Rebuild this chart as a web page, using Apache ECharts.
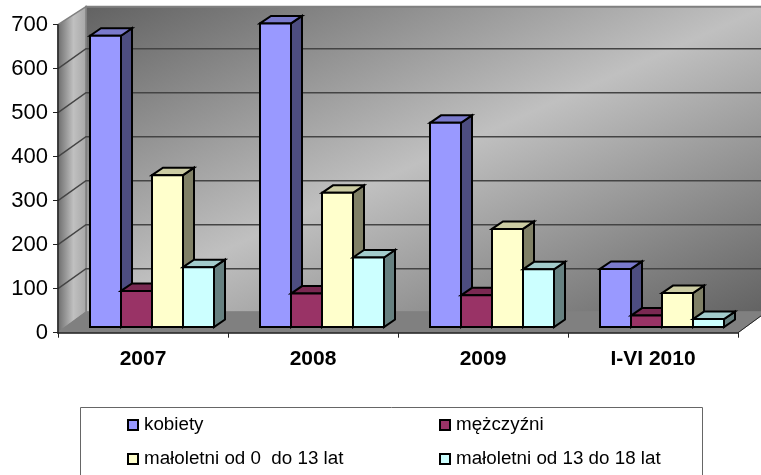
<!DOCTYPE html>
<html><head><meta charset="utf-8">
<style>html,body{margin:0;padding:0;background:#fff}#c{width:761px;height:475px}</style>
<script src="https://cdn.jsdelivr.net/npm/echarts@6/dist/echarts.min.js"></script>
</head><body><div id="c"></div>
<script>
const categories = ['2007', '2008', '2009', 'I-VI 2010'];
const kobiety = [662, 690, 464, 132];
const mezczyzni = [82, 76, 72, 26];
const maloletni0_13 = [345, 305, 223, 77];
const maloletni13_18 = [136, 158, 131, 18];
const seriesNames = ['kobiety', 'mężczyźni', 'małoletni od 0  do 13 lat', 'małoletni od 13 do 18 lat'];
const yTicks = [0, 100, 200, 300, 400, 500, 600, 700];

const FONT = '"Liberation Sans", Arial, sans-serif';
const WALL_DX = 28, WALL_TOP_DY = -18, WALL_DY = -20, FLOOR_DY = -20.5;
const FRONT_DX = 9, FRONT_DY = -5.7;
const BAR_DX = 11, BAR_DY = -7.5;
const BAR_RATIO = 31 / 170;
const faces = [
  {front:'#9999FF', top:'#7A7ACC', side:'#4D4D80'},
  {front:'#993366', top:'#7A2952', side:'#4D1A33'},
  {front:'#FFFFCC', top:'#CCCCA3', side:'#808066'},
  {front:'#CCFFFF', top:'#A3CCCC', side:'#668080'}
];

function wallRender(params, api) {
  const band = api.size([1, 0])[0];
  const x0 = api.coord([0, 0])[0] - band / 2;
  const x1 = x0 + band * categories.length;
  const y0 = api.coord([0, 0])[1];
  const yT = api.coord([0, 700])[1];
  const bx0 = x0 + WALL_DX, bx1 = x1 + WALL_DX, by0 = y0 + FLOOR_DY, byT = yT + WALL_TOP_DY;
  const w = bx1 - bx0, h = by0 - byT, cx = (bx0 + bx1) / 2, cy = (by0 + byT) / 2;
  const len = Math.hypot(w, h), nx = h / len, ny = w / len;
  const half = (w / 2) * nx + (h / 2) * ny;
  const kids = [];
  kids.push({type:'polygon', shape:{points:[[bx0,byT],[bx1,byT],[bx1,by0],[bx0,by0]]},
    style:{fill:{type:'linear', global:true, x:cx-half*nx, y:cy-half*ny, x2:cx+half*nx, y2:cy+half*ny,
      colorStops:[{offset:0,color:'#626262'},{offset:0.5,color:'#C0C0C0'},{offset:1,color:'#626262'}]},
      stroke:'#808080', lineWidth:2}});
  kids.push({type:'polygon', shape:{points:[[x0,yT],[bx0,byT],[bx0,by0],[x0,y0]]},
    style:{fill:{type:'linear', global:true, x:x0, y:0, x2:bx0, y2:0,
      colorStops:[{offset:0,color:'#6E6E6E'},{offset:0.55,color:'#C0C0C0'},{offset:1,color:'#A8A8A8'}]},
      stroke:'#808080', lineWidth:1.5}});
  kids.push({type:'polygon', shape:{points:[[x0,y0],[x1,y0],[bx1,by0],[bx0,by0]]},
    style:{fill:'#808080', stroke:'#808080', lineWidth:1}});
  yTicks.forEach(v => {
    if (v === 0 || v === 700) return;
    const y = api.coord([0, v])[1];
    kids.push({type:'polyline', shape:{points:[[x0,y],[bx0,y+WALL_DY],[bx1,y+WALL_DY]]},
      style:{fill:null, stroke:'#444', lineWidth:1.5}});
  });
  kids.push({type:'line', shape:{x1:x1,y1:y0,x2:bx1,y2:by0}, style:{stroke:'#222', lineWidth:1}});
  return {type:'group', children:kids};
}

function barRender(i) {
  return function (params, api) {
    const cat = api.value(0), val = api.value(1);
    const band = api.size([1, 0])[0], bw = band * BAR_RATIO;
    const base = api.coord([cat, 0]), top = api.coord([cat, val]);
    const l = base[0] + FRONT_DX + (i - 2) * bw, r = l + bw;
    const b = base[1] + FRONT_DY, t = top[1] + FRONT_DY;
    const f = faces[i];
    const st = fill => ({fill, stroke:'#000', lineWidth:2, lineJoin:'miter'});
    return {type:'group', children:[
      {type:'polygon', shape:{points:[[r,t],[r+BAR_DX,t+BAR_DY],[r+BAR_DX,b+BAR_DY],[r,b]]}, style:st(f.side)},
      {type:'polygon', shape:{points:[[l,t],[l+BAR_DX,t+BAR_DY],[r+BAR_DX,t+BAR_DY],[r,t]]}, style:st(f.top)},
      {type:'polygon', shape:{points:[[l,t],[r,t],[r,b],[l,b]]}, style:st(f.front)}
    ]};
  };
}

const pairs = arr => arr.map((v, k) => [k, v]);
const valueArrays = [kobiety, mezczyzni, maloletni0_13, maloletni13_18];

const chart = echarts.init(document.getElementById('c'), null, {renderer:'canvas'});
chart.setOption({
  animation:false,
  backgroundColor:'#fff',
  textStyle:{fontFamily:FONT},
  grid:{left:58, right:23, top:24.7, bottom:142.3},
  graphic:[{type:'rect', z:0, silent:true, shape:{x:80.5,y:407.5,width:622,height:90},
    style:{fill:'#fff', stroke:'#666', lineWidth:1}}],
  xAxis:{type:'category', data:categories, z:5,
    axisLine:{lineStyle:{color:'#222', width:1.5}},
    axisTick:{show:true, length:5, alignWithLabel:false, lineStyle:{color:'#222'}},
    axisLabel:{fontFamily:FONT, fontWeight:'bold', fontSize:21, color:'#000', margin:16}},
  yAxis:{type:'value', min:0, max:700, interval:100, z:5,
    axisLine:{show:true, lineStyle:{color:'#222', width:1.5}},
    axisTick:{show:true, length:5, lineStyle:{color:'#222'}},
    splitLine:{show:false},
    axisLabel:{fontFamily:FONT, fontSize:22, color:'#000', margin:10}},
  legend:{
    data:seriesNames, left:80, top:409, orient:'horizontal', width:622,
    padding:[6,0,40,47], itemWidth:10, itemHeight:10, itemGap:14,
    itemStyle:{borderColor:'#000', borderWidth:2},
    textStyle:{fontFamily:FONT, fontSize:18.8, color:'#000', width:281, height:20, lineHeight:20, padding:[0,0,0,1]},
    icon:'rect', selectedMode:false
  },
  series:[
    {name:'walls', type:'custom', z:1, renderItem:wallRender, data:[[0,0]], encode:{x:0,y:1}, silent:true},
    ...valueArrays.map((arr, i) => ({
      name:seriesNames[i], type:'custom', z:2 + i, renderItem:barRender(i),
      itemStyle:{color:faces[i].front}, data:pairs(arr), encode:{x:0,y:1}
    }))
  ]
});
</script></body></html>
